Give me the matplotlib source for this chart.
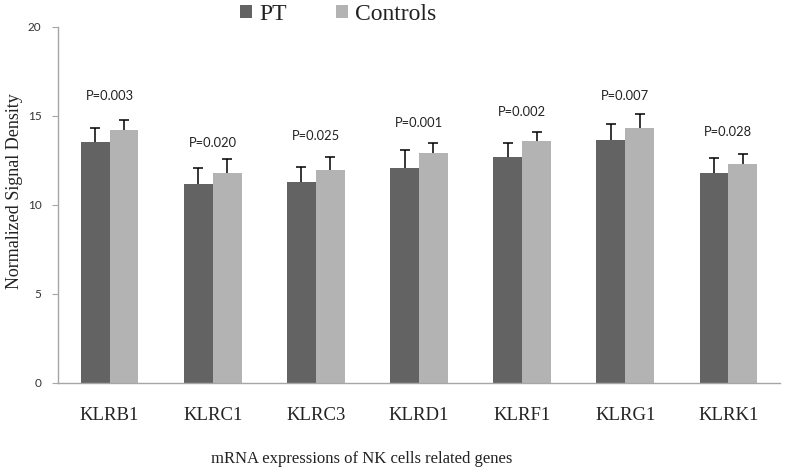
import matplotlib
matplotlib.use("Agg")
import matplotlib.pyplot as plt
import numpy as np

genes = ["KLRB1", "KLRC1", "KLRC3", "KLRD1", "KLRF1", "KLRG1", "KLRK1"]
pt_vals = [13.55, 11.2, 11.3, 12.1, 12.7, 13.65, 11.8]
pt_err = [0.8, 0.85, 0.85, 1.0, 0.8, 0.9, 0.85]
ctrl_vals = [14.2, 11.8, 11.97, 12.92, 13.6, 14.33, 12.3]
ctrl_err = [0.58, 0.78, 0.73, 0.56, 0.5, 0.77, 0.56]
p_labels = ["P=0.003", "P=0.020", "P=0.025", "P=0.001", "P=0.002", "P=0.007", "P=0.028"]
p_y = [16.1, 13.5, 13.9, 14.6, 15.2, 16.1, 14.1]

dark = "#636363"
light = "#b3b3b3"
axis_col = "#a6a6a6"

plt.rcParams["font.family"] = "Liberation Serif"

fig = plt.figure(figsize=(7.85, 4.73), dpi=100)
ax = fig.add_axes([0.0739, 0.1903, 0.9197, 0.7527])

x = np.arange(len(genes))
w = 0.28
ax.bar(x - w / 2, pt_vals, w, color=dark, label="PT")
ax.bar(x + w / 2, ctrl_vals, w, color=light, label="Controls")

# upper-only error bars, cap only on top
for xs, vals, errs in [(x - w / 2, pt_vals, pt_err), (x + w / 2, ctrl_vals, ctrl_err)]:
    eb = ax.errorbar(xs, vals, yerr=[np.zeros(len(errs)), errs], fmt="none",
                     ecolor="black", elinewidth=1.1, capsize=3.5, capthick=1.1)
    eb[1][0].set_visible(False)

for xi, lab, yy in zip(x, p_labels, p_y):
    ax.text(xi, yy, lab, ha="center", va="center", fontsize=9.3,
            family="Lato", color="#222222")

ax.set_xlim(-0.5, 6.5)
ax.set_ylim(0, 20)
ax.set_yticks([0, 5, 10, 15, 20])
ax.set_xticks(x)
ax.set_xticklabels(genes, fontsize=13.5, color="#222222")
ax.tick_params(axis="x", length=0, pad=17)
ax.tick_params(axis="y", length=4, color=axis_col, labelsize=8.5, pad=8)
for lab in ax.get_yticklabels():
    lab.set_family("Lato")
    lab.set_color("#333333")

for s in ["top", "right"]:
    ax.spines[s].set_visible(False)
for s in ["left", "bottom"]:
    ax.spines[s].set_color(axis_col)
    ax.spines[s].set_linewidth(1.0)

fig.text(0.018, 0.596, "Normalized Signal Density", rotation=90, ha="center",
         va="center", fontsize=13, color="#222222")
fig.text(0.461, 0.03, "mRNA expressions of NK cells related genes", ha="center",
         va="center", fontsize=12, color="#222222")

leg = fig.legend(loc="center", bbox_to_anchor=(0.431, 0.97), ncol=2, frameon=False,
                 fontsize=17, handlelength=0.5, handleheight=0.5,
                 handletextpad=0.3, columnspacing=2.1)
for t in leg.get_texts():
    t.set_color("#222222")
    t.set_fontfamily("Liberation Serif")

fig.savefig("out.png", dpi=100)
